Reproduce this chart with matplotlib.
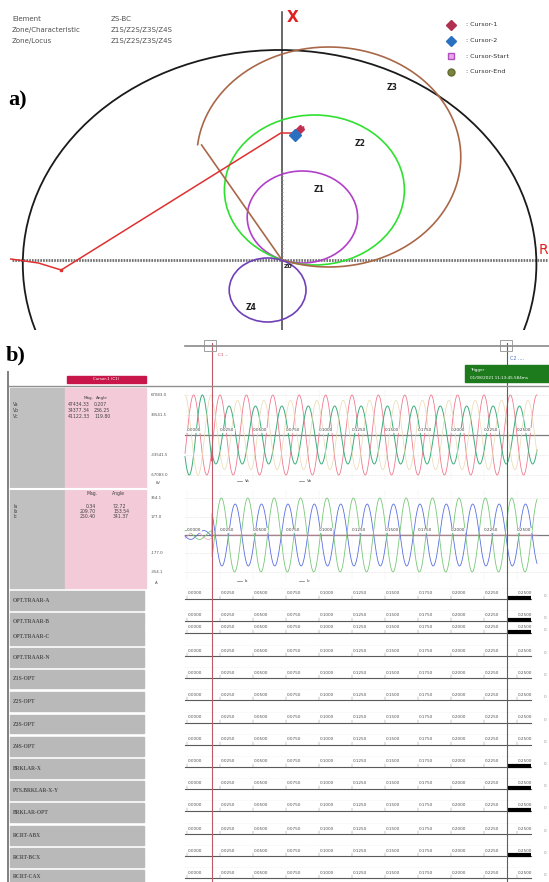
import numpy as np
import matplotlib
matplotlib.use("Agg")
import matplotlib.pyplot as plt
from matplotlib.patches import Circle, Rectangle
from matplotlib.lines import Line2D

W, H = 549, 882

# ---------------- data: panel a (impedance plane, ohm-like units) ----------------
zone_names = ["Z1", "Z2", "Z3", "Z4"]
zone_centers_R = [17, 27, 39, -12]
zone_centers_X = [43, 70, 103, -30]
zone_radius = [46, 75, 110, 32]
z3_cut_R, z3_cut_X = -67, 115          # Z3 blinder corner
outer_center = (-2, -4)
outer_radius = 214
locus_R = [-226, -203, -184, -1, 11, 18]
locus_X = [1, -3, -10, 127, 127, 133]
cursor1 = (15, 131)
cursor2 = (11, 125)
zone_label_R = [31, 65, 92, -26, 5]
zone_label_X = [70, 117, 173, -48, -6]
zone_label_txt = ["Z1", "Z2", "Z3", "Z4", "Z0"]
legend_names = [": Cursor-1", ": Cursor-2", ": Cursor-Start", ": Cursor-End"]
header_keys = ["Element", "Zone/Characteristic", "Zone/Locus"]
header_vals = ["ZS-BC", "Z1S/Z2S/Z3S/Z4S", "Z1S/Z2S/Z3S/Z4S"]

# ---------------- data: panel b (oscillography) ----------------
freq = 50.0
t_fault = 0.019
t_c2 = 0.2424
v_names = ["Va", "Vb", "Vc"]
v_mag = [47434.33, 34377.34, 41122.33]
v_ang = [0.207, 236.25, 119.80]
v_pre_mag = [47434.33, 47434.33, 47434.33]
v_pre_ang = [0.0, 240.0, 120.0]
i_names = ["Ia", "Ib", "Ic"]
i_mag = [0.34, 209.70, 250.40]
i_ang = [72.72, 153.54, 341.37]
i_pre_mag = [30.0, 30.0, 30.0]
i_pre_ang = [-20.0, 220.0, 100.0]
v_ticks = [67083.0, 33541.5, -33541.5, -67083.0]
i_ticks = [354.1, 177.0, -177.0, -354.1]
tick_times = [0.0, 0.025, 0.05, 0.075, 0.1, 0.125, 0.15, 0.175, 0.2, 0.225, 0.25]
tick_labels = ["0.0000", "0.0250", "0.0500", "0.0750", "0.1000", "0.1250",
               "0.1500", "0.1750", "0.2000", "0.2250", "0.2500"]
dig_names = ["OPT.TRAAR-A", "OPT.TRAAR-B", "OPT.TRAAR-C", "OPT.TRAAR-N", "Z1S-OPT",
             "Z2S-OPT", "Z3S-OPT", "Z4S-OPT", "BRKLAR-X", "PTS.BRKLAR-X-Y",
             "BRKLAR-OPT", "RCRT-ABX", "RCRT-BCX", "RCRT-CAX"]
dig_state = [1, 1, 1, 0, 0, 0, 0, 0, 1, 1, 1, 0, 1, 0]
dig_on = 0.2424
dig_off = 0.2606

# ---------------- layout helpers ----------------
fig = plt.figure(figsize=(W / 100, H / 100), dpi=100)
fig.patch.set_facecolor("white")


def add_ax(px0, py0, px1, py1):
    return fig.add_axes([px0 / W, 1 - py1 / H, (px1 - px0) / W, (py1 - py0) / H])


def ftext(px, py, s, **kw):
    fig.text(px / W, 1 - py / H, s, **kw)


def frect(px0, py0, px1, py1, **kw):
    fig.add_artist(Rectangle((px0 / W, 1 - py1 / H), (px1 - px0) / W, (py1 - py0) / H,
                             transform=fig.transFigure, **kw))


def fline(xs, ys, **kw):
    fig.add_artist(Line2D([x / W for x in xs], [1 - y / H for y in ys],
                          transform=fig.transFigure, **kw))


# ======================= PANEL A =======================
axa = add_ax(0, 0, 549, 330)
axa.set_xlim(-235, 222.5)
axa.set_ylim(-70, 260)
axa.axis("off")

axa.plot([-225, 222], [0, 0], color="#707070", lw=2.0, ls=(0, (0.6, 0.4)), zorder=1)
axa.plot([0, 0], [-70, 248], color="#404040", lw=1.1, zorder=1)
for yy in np.arange(4, 90, 4):
    axa.plot([-1.2, 1.2], [yy, yy], color="#909090", lw=0.4, zorder=1)

axa.add_patch(Circle(outer_center, outer_radius, fill=False, ec="#1a1a1a", lw=1.3, zorder=2))

colors = ["#b040c8", "#30e030", "#a86848", "#7040b8"]
for k in range(4):
    c = (zone_centers_R[k], zone_centers_X[k])
    r = zone_radius[k]
    if zone_names[k] == "Z3":
        a0 = np.degrees(np.arctan2(z3_cut_X - c[1], z3_cut_R - c[0]))
        a1 = np.degrees(np.arctan2(0 - c[1], 0 - c[0]))
        if a1 > a0:
            a1 -= 360
        th = np.radians(np.linspace(a0, a1, 300))
        xs = np.r_[c[0] + r * np.cos(th), 0, z3_cut_R]
        ys = np.r_[c[1] + r * np.sin(th), 0, z3_cut_X]
        axa.plot(xs, ys, color=colors[k], lw=1.2, zorder=3)
    else:
        axa.add_patch(Circle(c, r, fill=False, ec=colors[k], lw=1.2, zorder=3))

axa.plot(locus_R, locus_X, color="#e03030", lw=1.1, zorder=4)
axa.plot([locus_R[2]], [locus_X[2]], marker="s", ms=2, color="#e03030", zorder=4)
axa.plot([cursor1[0]], [cursor1[1]], marker="D", ms=4, color="#c03050", zorder=5)
axa.plot([cursor2[0]], [cursor2[1]], marker="D", ms=6, color="#2a70c0", zorder=6)

for R, X, s in zip(zone_label_R, zone_label_X, zone_label_txt):
    axa.text(R, X, s, fontsize=5.5 if s != "Z0" else 4.5, fontweight="bold",
             ha="center", va="center", color="#202020", zorder=7)

ftext(293, 18, "X", color="#e02020", fontsize=11, fontweight="bold", ha="center", va="center")
ftext(543, 250, "R", color="#e02020", fontsize=10, ha="center", va="center")
ftext(8, 100, "a)", fontsize=16, fontweight="bold", family="Liberation Serif", va="center")

for k in range(3):
    ftext(12, 19 + 11 * k, header_keys[k], fontsize=5, color="#505050", va="center")
    ftext(111, 19 + 11 * k, header_vals[k], fontsize=5, color="#505050", va="center")

leg_mk = [("D", "#b03050", "#b03050"), ("D", "#2a70c0", "#2a70c0"),
          ("s", "#e8a8e8", "#b050c0"), ("o", "#808040", "#607030")]
for k in range(4):
    fy = 25 + 15.5 * k
    fig.add_artist(Line2D([451 / W], [1 - fy / H], marker=leg_mk[k][0], ms=5,
                          mfc=leg_mk[k][1], mec=leg_mk[k][2], transform=fig.transFigure))
    ftext(466, fy, legend_names[k], fontsize=4.6, color="#303030", va="center")

# ======================= PANEL B =======================
ftext(6, 355, "b)", fontsize=16, fontweight="bold", family="Liberation Serif", va="center")

fline([185, 549], [346, 346], color="#8a8a8a", lw=1.2)
for cx in (210, 506):
    frect(cx - 6, 340, cx + 6, 351, fill=False, ec="#a0a0a0", lw=0.7)
ftext(218, 355, "C1 ...", fontsize=3, color="#c04050", va="center")
ftext(510, 358, "C2 ....", fontsize=3.5, color="#5070c0", va="center")
frect(465, 365, 549, 382, color="#1d7a1d")
ftext(470, 370, "Trigger", fontsize=3, color="white", va="center")
ftext(470, 378, "01/08/2021 11:13:45.584ms", fontsize=3, color="white", va="center")

fline([8, 549], [386, 386], color="#909090", lw=1.0)
fline([8, 8], [372, 882], color="#808080", lw=1.4)

frect(67, 376, 146, 383, color="#c8164a")
ftext(106, 379.5, "Cursor-1 (C1)", fontsize=2.8, color="white", ha="center", va="center")

frect(10, 388, 65, 588, color="#c0c0c0")
frect(65, 388, 146, 588, color="#f3cbd8")
fline([10, 146], [489, 489], color="white", lw=1.5)

ftext(93, 398, "Mag.", fontsize=3.0, color="#404040", ha="right", va="center")
ftext(96, 398, "Angle", fontsize=3.0, color="#404040", ha="left", va="center")
for k in range(3):
    yy = 405 + 6 * k
    ftext(13, yy, v_names[k], fontsize=3.3, color="#404040", va="center")
    ftext(90, yy, f"{v_mag[k]:.2f}", fontsize=3.3, color="#404040", ha="right", va="center")
    ftext(94, yy, f"{v_ang[k]:.3f}" if k == 0 else f"{v_ang[k]:.2f}", fontsize=3.3,
          color="#404040", va="center")
ftext(92, 494, "Mag.", fontsize=3.3, color="#404040", ha="center", va="center")
ftext(118, 494, "Angle", fontsize=3.3, color="#404040", ha="center", va="center")
for k in range(3):
    yy = 506 + 5.5 * k
    ftext(13, yy, i_names[k], fontsize=3.3, color="#404040", va="center")
    ftext(96, yy, f"{i_mag[k]:.2f}", fontsize=3.3, color="#404040", ha="right", va="center")
    ftext(113, yy, f"{i_ang[k]:.2f}", fontsize=3.3, color="#404040", va="center")

T0 = (150 - 187) / 33 * 0.025
T1 = (549 - 187) / 33 * 0.025
t = np.linspace((185 - 187) / 33 * 0.025, (537 - 187) / 33 * 0.025, 3000)


def wave(mag_pre, ang_pre, mag, ang):
    pre = np.sqrt(2) * mag_pre * np.sin(2 * np.pi * freq * t + np.radians(ang_pre))
    post = np.sqrt(2) * mag * np.sin(2 * np.pi * freq * t + np.radians(ang))
    return np.where(t < t_fault, pre, post)


def analog(py0, py1, lim, ticks, mags_pre, angs_pre, mags, angs, cols, lws, names, unit, legy):
    ax = add_ax(150, py0, 549, py1)
    ax.set_xlim(T0, T1)
    ax.set_ylim(-lim, lim)
    ax.axis("off")
    for tv in ticks:
        ax.plot([(185 - 187) / 33 * 0.025, T1], [tv, tv], color="#c8c8c8", lw=0.4, ls=":")
    for tt in tick_times:
        ax.plot([tt, tt], [-lim * 0.95, lim * 0.95], color="#d8d8d8", lw=0.3, ls=":")
    ax.plot([(185 - 187) / 33 * 0.025, T1], [0, 0], color="#7a7a7a", lw=0.9)
    for k in range(3):
        ax.plot(t, wave(mags_pre[k], angs_pre[k], mags[k], angs[k]), color=cols[k], lw=lws[k])
    for tt, lab in zip(tick_times, tick_labels):
        ax.text(tt, lim * 0.1, lab, fontsize=3, color="#404040", va="center", ha="left",
                bbox=dict(boxstyle="square,pad=0.05", fc="white", ec="none", alpha=0.9))
    for tv in ticks:
        ax.text(T0 + 0.0005, tv, f"{tv:.1f}", fontsize=2.8, color="#505050", va="center")
    ax.text(T0 + 0.004, -lim * 1.02, unit, fontsize=2.8, color="#505050", va="center")
    for k, nm in enumerate(names[:2]):
        tx = 0.038 + 0.047 * k
        ax.plot([tx, tx + 0.004], [legy, legy], color="#707070", lw=0.5)
        ax.text(tx + 0.006, legy, nm, fontsize=2.8, color="#404040", va="center")
    return ax


analog(388, 482, 78800, v_ticks, v_pre_mag, v_pre_ang, v_mag, v_ang,
       ["#f07a90", "#3cae7c", "#ead9b0"], [0.6, 0.7, 0.5], v_names, "kV", -77000)
analog(488, 582, 450, i_ticks, i_pre_mag, i_pre_ang, i_mag, i_ang,
       ["#f0a0b4", "#5a70e0", "#78c878"], [0.5, 0.6, 0.6], i_names, "A", -440)

row_line = [599, 621, 633, 656, 678, 700, 723, 745, 767, 789, 811, 834, 856, 878]
box_top = [591, 613, 627, 648, 670, 692, 715, 737, 759, 781, 803, 826, 848, 870]
box_bot = [610, 626, 645, 667, 688, 711, 733, 756, 778, 800, 822, 845, 867, 882]
axd = add_ax(150, 586, 549, 882)
axd.set_xlim(T0, T1)
axd.set_ylim(882, 586)
axd.axis("off")
ts = (185 - 187) / 33 * 0.025
te = (531 - 187) / 33 * 0.025
for k in range(len(dig_names)):
    y = row_line[k]
    axd.plot([ts, te], [y, y], color="#5a5a5a", lw=0.8)
    axd.plot([ts, te], [y - 11, y - 11], color="#e4e4e4", lw=0.4, ls=":")
    for tt, lab in zip(tick_times, tick_labels):
        axd.plot([tt, tt], [y, y - 3], color="#808080", lw=0.3)
        axd.text(tt + 0.0006, y - 5.5, lab, fontsize=3, color="#505050", va="center")
    if dig_state[k]:
        axd.plot([dig_on, dig_off], [y - 1.5, y - 1.5], color="black", lw=3,
                 solid_capstyle="butt")
    axd.text(T1 - 0.004, y - 3, "0", fontsize=3, color="#909090", va="center")
    frect(10, box_top[k], 144, box_bot[k], color="#b9b9b9")
    ftext(13, (box_top[k] + box_bot[k]) / 2 + (2 if k == 1 else 0), dig_names[k],
          fontsize=4, color="#505050", va="center", family="Liberation Serif",
          fontweight="bold")

axo = add_ax(150, 343, 549, 882)
axo.set_xlim(T0, T1)
axo.set_ylim(0, 1)
axo.axis("off")
axo.axvline(t_fault, color="#c05868", lw=0.8)
axo.axvline(t_c2, color="#4a6e4a", lw=0.8)

fig.savefig("out.png", dpi=100)
